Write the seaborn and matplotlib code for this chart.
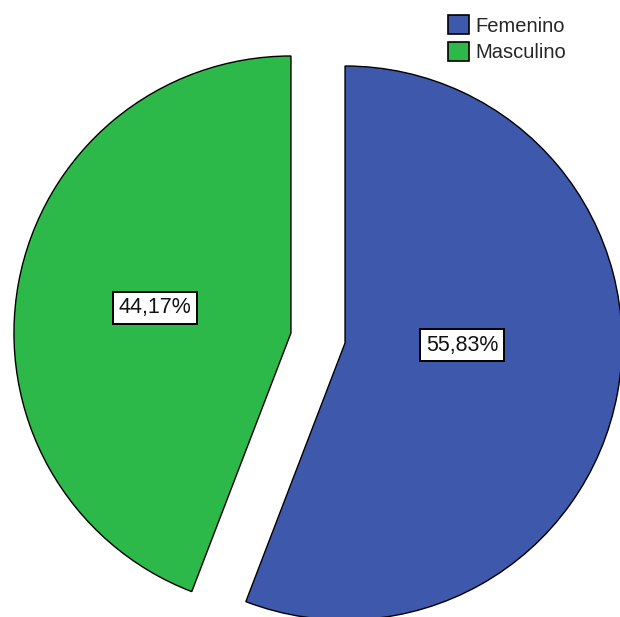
import matplotlib
matplotlib.use("Agg")
import matplotlib.pyplot as plt
import seaborn as sns
from matplotlib.patches import Patch

categories = ["Femenino", "Masculino"]
values = [55.83, 44.17]
colors = ["#3E58AC", "#2DB84A"]

sns.set_theme(style="white")
plt.rcParams['font.family'] = ['Liberation Sans', 'DejaVu Sans']

fig = plt.figure(figsize=(6.2, 6.17), dpi=100)
ax = fig.add_axes([0, 0, 1, 1])

W, H = 620, 617
cx, cy, R = 318, H - 338, 277
gap = 27.5  # explode distance in data units

wedges, texts, autotexts = ax.pie(
    values, colors=colors, startangle=90, counterclock=False,
    explode=[gap, gap], center=(cx, cy), radius=R,
    autopct=lambda p: f"{p:.2f}%".replace('.', ','), pctdistance=0.5,
    wedgeprops=dict(edgecolor="black", linewidth=1.0),
    textprops=dict(fontsize=15.5, color="#111111"),
)
for t in autotexts:
    t.set_bbox(dict(boxstyle="square,pad=0.25", facecolor="white",
                    edgecolor="black", linewidth=1.4))
# SPSS places the larger slice's label nearer the centre
autotexts[0].set_position((462, H - 345))

ax.set_xlim(0, W)
ax.set_ylim(0, H)
ax.set_aspect('equal')
ax.axis('off')

handles = [Patch(facecolor=c, edgecolor="black", linewidth=1.2) for c in colors]
fig.legend(handles, categories, loc="upper left",
           bbox_to_anchor=(448 / W, 1 - 15 / H), frameon=False,
           fontsize=14.5, handlelength=1.05, handleheight=1.1,
           handletextpad=0.3, labelspacing=0.3, borderpad=0, borderaxespad=0)

fig.savefig("out.png", dpi=100, facecolor="white")
